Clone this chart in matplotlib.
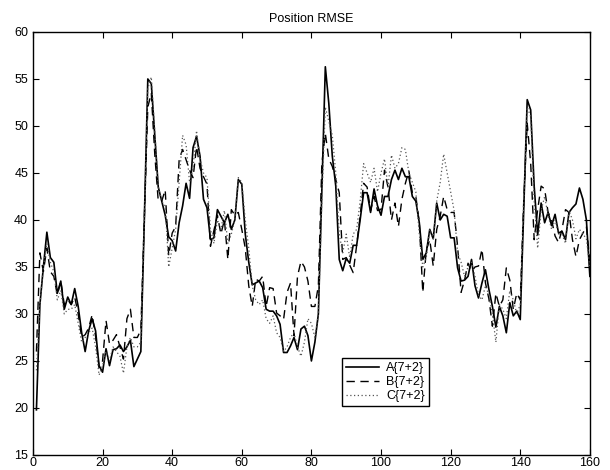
import numpy as np
import matplotlib
matplotlib.use("Agg")
import matplotlib.pyplot as plt

plt.rcParams['font.family'] = ['Liberation Sans', 'DejaVu Sans']

# RMSE per time step for the three filter configurations
steps = np.arange(1, 161)

rmse_a = [19.8, 31, 35, 38.7, 36, 35.5, 32.2, 33.5, 30.5, 31.8,
          31, 32.7, 30.8, 28, 26, 28.2, 29.5, 28.2, 24.5, 23.8,
          26.3, 24.5, 26.2, 26.3, 26.7, 26, 26.5, 27.2, 24.4, 25.2,
          26, 40, 55, 54.5, 49, 43.5, 42, 40.5, 38.2, 37.8,
          36.7, 39.7, 41.5, 43.9, 42.3, 47.7, 48.9, 46.8, 42.2, 41.3,
          37.9, 38.1, 41.1, 40.4, 39.7, 40.6, 39, 40, 44.3, 43.8,
          38.5, 35.5, 33.1, 33.3, 33.5, 32.8, 30.5, 30.3, 30.3, 29.8,
          28.9, 25.9, 25.9, 26.6, 27.5, 26.2, 28.4, 28.7, 27.7, 25,
          27, 30, 43, 56.3, 52.4, 46.8, 43.6, 35.8, 34.6, 35.9,
          35.4, 37.3, 37.3, 40, 42.9, 42.9, 40.8, 43.3, 41.5, 40.5,
          42.5, 42.5, 44.3, 45.3, 44.3, 45.5, 44.6, 44.6, 42.5, 42,
          39.7, 35.8, 36.5, 39, 38, 41.8, 40, 40.6, 40.4, 38.1,
          38.1, 34.9, 33.5, 33.6, 34, 35.8, 33, 31.7, 33.3, 34.7,
          32.6, 30.8, 28.6, 30.8, 29.8, 28, 31.2, 29.8, 30.3, 29.4,
          41, 52.8, 51.7, 43.6, 38.4, 41.8, 39.7, 40.8, 39.4, 40.6,
          38.6, 38.8, 37.9, 40.8, 41.3, 41.7, 43.4, 42.2, 40, 34]

rmse_b = [26, 36.5, 34.5, 37, 34.5, 34, 32, 33.5, 31, 31.5,
          31, 31.8, 30, 27.5, 27.8, 28.5, 29.9, 27.6, 24.3, 25,
          29.3, 26.8, 27.2, 27.8, 26.5, 25.2, 29.5, 30.5, 27.5, 27.5,
          28.3, 40, 52, 53.5, 47, 42, 42, 43.2, 36.2, 38.6,
          39.3, 46.4, 47.5, 46.4, 45.3, 44.5, 47.8, 45.5, 44.6, 43.8,
          37.2, 38.9, 40.5, 38.5, 40, 35.8, 41.1, 40.5, 40.8, 39,
          37, 33, 30.8, 33.7, 33.5, 34, 30.8, 32.8, 32.7, 30.1,
          29.8, 29.4, 32.3, 33.3, 27.7, 34, 35.6, 35, 33.5, 30.8,
          30.8, 33, 46, 49.2, 46.5, 45.7, 44.3, 42.9, 35.8, 36,
          35.2, 34.4, 37.3, 40.4, 43.9, 43.5, 41, 42.5, 41, 41.1,
          45.3, 43.5, 40, 41.8, 39.3, 42.2, 43.9, 45.2, 42.9, 42.5,
          39.7, 32.3, 36.8, 37.9, 35.1, 39, 40.4, 42.5, 41.1, 40.8,
          40.8, 37.2, 32.3, 33.6, 35.4, 34.5, 35, 35.1, 36.9, 33.3,
          31.6, 28.7, 32.2, 30.8, 31.5, 34.9, 33.6, 30.5, 32.2, 31.5,
          42, 50.3, 46, 37.9, 41.1, 43.6, 43.3, 40.8, 40, 38.3,
          37.6, 39, 41.1, 40.8, 37.9, 36.1, 37.9, 38.6, 39.3, 35.5]

rmse_c = [24, 31, 35, 37.5, 35.5, 34.5, 31.5, 32.5, 30, 30.5,
          30.5, 31, 29, 27, 27.5, 28, 28.5, 26.5, 23.5, 24.5,
          26, 25, 26.5, 26, 25.5, 23.7, 26.5, 27.5, 26.5, 26.5,
          27, 40, 54, 55.2, 49.5, 43.5, 42, 41.5, 35, 37,
          39, 44, 49, 48, 44, 45.5, 49.5, 46.5, 45, 44.5,
          39, 37.5, 40, 39, 41, 37.5, 38.5, 40, 44.5, 44,
          40, 37, 33, 31.5, 31, 31.5, 29.5, 29, 29.8, 28,
          27.5, 26, 26.5, 27.5, 28, 26.5, 25.5, 27, 29.5, 29,
          27.5, 30, 42, 52, 50.5, 49, 45, 38.5, 36.5, 38.5,
          36, 38.5, 39, 42, 46, 45, 44, 45.5, 43, 45,
          46.5, 43.5, 46.9, 45.5, 46, 47.7, 47.5, 45, 44, 43,
          38.5, 35, 36, 39, 38, 42, 44, 47, 45, 43,
          41, 36.5, 35.5, 34, 35, 35.5, 34, 32, 31.5, 33,
          32, 30, 27, 31, 30.5, 29.5, 32.5, 31.5, 30, 31,
          42, 52, 51, 42, 37, 41, 42.5, 40.5, 39, 40,
          38.5, 38.5, 37.5, 41, 40, 38, 39, 38.5, 38, 35]

fig = plt.figure(figsize=(6.1, 4.7), dpi=100)
ax = fig.add_axes([0.054, 0.032, 0.913, 0.900])

ax.plot(steps, rmse_a, color='black', lw=1.2, ls='-', label='A{7+2}')
ax.plot(steps, rmse_b, color='black', lw=1.0, ls=(0, (6, 4)), label='B{7+2}')
ax.plot(steps, rmse_c, color='#555555', lw=0.9, ls=(0, (1, 2)), label='C{7+2}')

ax.set_xlim(0, 160)
ax.set_ylim(15, 60)
ax.set_xticks(np.arange(0, 161, 20))
ax.set_yticks(np.arange(15, 61, 5))
ax.tick_params(direction='in', top=True, right=True, length=4, labelsize=9)
ax.tick_params(axis='x', pad=1.2)
for s in ax.spines.values():
    s.set_linewidth(1.0)
ax.set_title('Position RMSE', fontsize=9, pad=7)

leg = ax.legend(loc='lower left', bbox_to_anchor=(0.555, 0.115), fontsize=9,
                fancybox=False, framealpha=1, edgecolor='black',
                handlelength=2.6, borderpad=0.35, labelspacing=0.15,
                handletextpad=0.6, borderaxespad=0)
leg.get_frame().set_linewidth(1.0)

fig.savefig('out.png', dpi=100)
